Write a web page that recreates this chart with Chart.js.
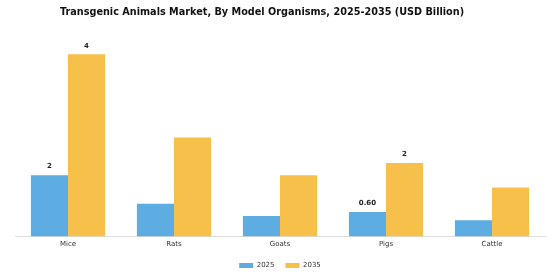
<!DOCTYPE html>
<html>
<head>
<meta charset="utf-8">
<script src="https://cdn.jsdelivr.net/npm/chart.js@4"></script>
<style>
  html, body { margin: 0; padding: 0; background: #fff; }
  #wrap { width: 560px; height: 280px; }
</style>
</head>
<body>
<div id="wrap"><canvas id="market"></canvas></div>
<script>
// categories and values (USD Billion)
var organisms = ['Mice', 'Rats', 'Goats', 'Pigs', 'Cattle'];
var years = ['2025', '2035'];
var values2025 = [1.5, 0.8, 0.5, 0.6, 0.4];
var values2035 = [4.45, 2.42, 1.5, 1.8, 1.2];
// only these categories carry a value label
var labelled = ['Mice', 'Pigs'];
var titleText = 'Transgenic Animals Market, By Model Organisms, 2025-2035 (USD Billion)';

function fmt(v) {
	return v < 1 ? v.toFixed(2) : String(Math.round(v));
}

// title sits a little left of centre in the original, so draw it here
var sideTitle = {
	id: 'sideTitle',
	afterDraw: function(chart) {
		var ctx = chart.ctx;
		ctx.save();
		ctx.font = 'bold 9.7px "DejaVu Sans"';
		ctx.fillStyle = '#111';
		ctx.textAlign = 'center';
		ctx.textBaseline = 'middle';
		ctx.fillText(titleText, 262, 12);
		ctx.restore();
	}
};

// small value label plugin, drawn above the bars
var valueLabels = {
	id: 'valueLabels',
	afterDatasetsDraw: function(chart) {
		var ctx = chart.ctx;
		ctx.save();
		ctx.font = 'bold 7px "DejaVu Sans"';
		ctx.fillStyle = '#222';
		ctx.textAlign = 'center';
		ctx.textBaseline = 'bottom';
		chart.data.datasets.forEach(function(ds, i) {
			chart.getDatasetMeta(i).data.forEach(function(bar, j) {
				if (labelled.indexOf(organisms[j]) < 0) return;
				ctx.fillText(fmt(ds.data[j]), bar.x, bar.y - 5);
			});
		});
		ctx.restore();
	}
};

window.onload = function() {
	var ctx = document.getElementById('market').getContext('2d');
	new Chart(ctx, {
		type: 'bar',
		data: {
			labels: organisms,
			datasets: [
				{ label: years[0], data: values2025, backgroundColor: '#5DADE2' },
				{ label: years[1], data: values2035, backgroundColor: '#F7C04A' }
			]
		},
		options: {
			responsive: true,
			maintainAspectRatio: false,
			animation: false,
			datasets: { bar: { barPercentage: 1, categoryPercentage: 0.7 } },
			layout: { padding: { left: 15, right: 15, top: 40, bottom: 1 } },
			plugins: {
				title: { display: false },
				legend: {
					position: 'bottom',
					labels: {
						boxWidth: 14, boxHeight: 5,
						color: '#333',
						font: { family: '"DejaVu Sans"', size: 7 },
						padding: 11
					}
				},
				tooltip: { enabled: false }
			},
			scales: {
				x: {
					grid: { display: false, drawTicks: false, tickLength: 0 },
					border: { color: '#ddd' },
					ticks: { color: '#333', font: { family: '"DejaVu Sans"', size: 7 }, padding: 3 }
				},
				y: {
					display: false,
					min: 0,
					max: 4.8
				}
			}
		},
		plugins: [valueLabels, sideTitle]
	});
};
</script>
</body>
</html>
